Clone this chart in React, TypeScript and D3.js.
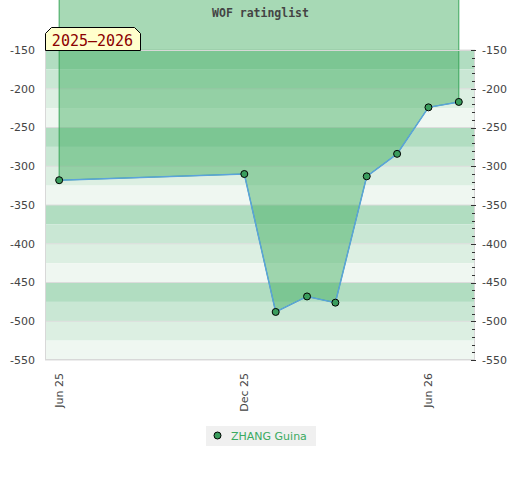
import { useRef, useEffect } from 'react';
import * as d3 from 'd3';

// rating per month (negative list values)
const MONTHS = ['2025-06', '2025-12', '2026-01', '2026-02', '2026-03', '2026-04', '2026-05', '2026-06', '2026-07'];
const RATINGS = [-318, -310, -488, -468, -476, -313, -284, -224, -217];

const X_TICKS = ['2025-06', '2025-12', '2026-06'];
const Y_MAJOR = [-150, -200, -250, -300, -350, -400, -450, -500, -550];

// bands of 25, repeating every 100
const STRIPE_COLORS = ['#b1ddc1', '#c9e7d4', '#dcefe2', '#eff7f1'];

const SERIES_NAME = 'ZHANG Guina';
const SEASON = '2025–2026';
const TITLE = 'WOF ratinglist';

const W = 520;
const H = 480;
const FONT = '"DejaVu Sans", sans-serif';
const MONO = '"DejaVu Sans Mono", monospace';

const parse = d3.timeParse('%Y-%m');

export default function App() {
  const ref = useRef<SVGSVGElement>(null);

  useEffect(() => {
    if (!ref.current) return;
    const svg = d3.select(ref.current);
    svg.selectAll('*').remove();

    const left = 45;
    const right = 475;
    const top = 50;
    const bottom = 360;

    const x = d3
      .scaleTime()
      .domain([new Date(2025, 4, 18), new Date(2026, 6, 17)])
      .range([left, right]);
    const y = d3.scaleLinear().domain([-550, -150]).range([bottom, top]);

    const data = MONTHS.map((m, i) => ({ date: parse(m) as Date, v: RATINGS[i] }));

    // stripes
    const bands = d3.range(-150, -550, -25);
    svg
      .append('g')
      .selectAll('rect')
      .data(bands)
      .join('rect')
      .attr('x', left)
      .attr('width', right - left)
      .attr('y', (d) => y(d))
      .attr('height', (d) => y(d - 25) - y(d))
      .attr('fill', (_d, i) => STRIPE_COLORS[i % 4]);

    // grid
    svg
      .append('g')
      .selectAll('line')
      .data(Y_MAJOR)
      .join('line')
      .attr('x1', left)
      .attr('x2', right)
      .attr('y1', (d) => y(d))
      .attr('y2', (d) => y(d))
      .attr('stroke', '#dcdcdc')
      .attr('stroke-width', 1);

    // area from the line up to the top of the page
    const area = d3
      .area<{ date: Date; v: number }>()
      .x((d) => x(d.date))
      .y0(-2)
      .y1((d) => y(d.v));
    svg
      .append('path')
      .datum(data)
      .attr('d', area)
      .attr('fill', 'rgba(60,170,90,0.45)')
      .attr('stroke', '#3aa65a')
      .attr('stroke-width', 1);

    // plot border
    svg
      .append('rect')
      .attr('x', left + 0.5)
      .attr('y', top + 0.5)
      .attr('width', right - left - 1)
      .attr('height', bottom - top - 1)
      .attr('fill', 'none')
      .attr('stroke', '#d8d8d8');

    // line
    const line = d3
      .line<{ date: Date; v: number }>()
      .x((d) => x(d.date))
      .y((d) => y(d.v));
    svg
      .append('path')
      .datum(data)
      .attr('d', line)
      .attr('fill', 'none')
      .attr('stroke', '#5ba3dc')
      .attr('stroke-width', 1.5);

    svg
      .append('g')
      .selectAll('circle')
      .data(data)
      .join('circle')
      .attr('cx', (d) => x(d.date))
      .attr('cy', (d) => y(d.v))
      .attr('r', 3.5)
      .attr('fill', '#3a9d5d')
      .attr('stroke', '#000')
      .attr('stroke-width', 1);

    // left axis labels
    svg
      .append('g')
      .selectAll('text')
      .data(Y_MAJOR)
      .join('text')
      .attr('x', 35)
      .attr('y', (d) => y(d))
      .attr('dy', '0.35em')
      .attr('text-anchor', 'end')
      .attr('font-family', FONT)
      .attr('font-size', 11)
      .attr('fill', '#444')
      .text((d) => d);

    // right axis: inward ticks + labels
    const minor = d3.range(-160, -550, -10).filter((d) => d % 50 !== 0);
    svg
      .append('g')
      .selectAll('line')
      .data(minor)
      .join('line')
      .attr('x1', right - 3)
      .attr('x2', right)
      .attr('y1', (d) => Math.round(y(d)) + 0.5)
      .attr('y2', (d) => Math.round(y(d)) + 0.5)
      .attr('stroke', '#333');
    svg
      .append('g')
      .selectAll('line')
      .data(Y_MAJOR)
      .join('line')
      .attr('x1', right - 4)
      .attr('x2', right + 1)
      .attr('y1', (d) => Math.round(y(d)) + 0.5)
      .attr('y2', (d) => Math.round(y(d)) + 0.5)
      .attr('stroke', '#333');
    svg
      .append('g')
      .selectAll('text')
      .data(Y_MAJOR)
      .join('text')
      .attr('x', 482)
      .attr('y', (d) => y(d))
      .attr('dy', '0.35em')
      .attr('font-family', FONT)
      .attr('font-size', 11)
      .attr('fill', '#444')
      .text((d) => d);

    // x labels, rotated
    const fmt = d3.timeFormat('%b %y');
    svg
      .append('g')
      .selectAll('text')
      .data(X_TICKS.map((t) => parse(t) as Date))
      .join('text')
      .attr('transform', (d) => `translate(${x(d)},373) rotate(-90)`)
      .attr('dy', '0.35em')
      .attr('text-anchor', 'end')
      .attr('font-family', FONT)
      .attr('font-size', 11)
      .attr('fill', '#444')
      .text((d) => fmt(d));

    // season tag
    const tx0 = 45.5;
    const tx1 = 140.5;
    const ty0 = 27.5;
    const ty1 = 50.5;
    svg
      .append('path')
      .attr(
        'd',
        `M${tx0},${ty1}L${tx0},${ty0 + 6}L${tx0 + 6},${ty0}L${tx1 - 6},${ty0}L${tx1},${ty0 + 6}L${tx1},${ty1}Z`
      )
      .attr('fill', '#ffffcc')
      .attr('stroke', '#000')
      .attr('stroke-width', 1);
    svg
      .append('text')
      .attr('x', 92.5)
      .attr('y', 45.5)
      .attr('text-anchor', 'middle')
      .attr('font-family', MONO)
      .attr('font-size', 15)
      .attr('fill', '#8b0000')
      .text(SEASON);

    // title
    svg
      .append('text')
      .attr('x', 260.5)
      .attr('y', 17)
      .attr('text-anchor', 'middle')
      .attr('font-family', MONO)
      .attr('font-weight', 'bold')
      .attr('font-size', 11.5)
      .attr('fill', '#444')
      .text(TITLE);

    // legend
    const lg = svg.append('g');
    lg.append('rect')
      .attr('x', 206)
      .attr('y', 426)
      .attr('width', 110)
      .attr('height', 20)
      .attr('fill', '#f0f0f0');
    lg.append('circle')
      .attr('cx', 217.5)
      .attr('cy', 435.5)
      .attr('r', 3.5)
      .attr('fill', '#3a9d5d')
      .attr('stroke', '#000');
    lg.append('text')
      .attr('x', 231)
      .attr('y', 440)
      .attr('font-family', FONT)
      .attr('font-size', 11)
      .attr('fill', '#3aaa60')
      .text(SERIES_NAME);
  }, []);

  return (
    <svg
      ref={ref}
      width={W}
      height={H}
      style={{ position: 'absolute', left: 0, top: 0, display: 'block', background: '#fff' }}
    />
  );
}
